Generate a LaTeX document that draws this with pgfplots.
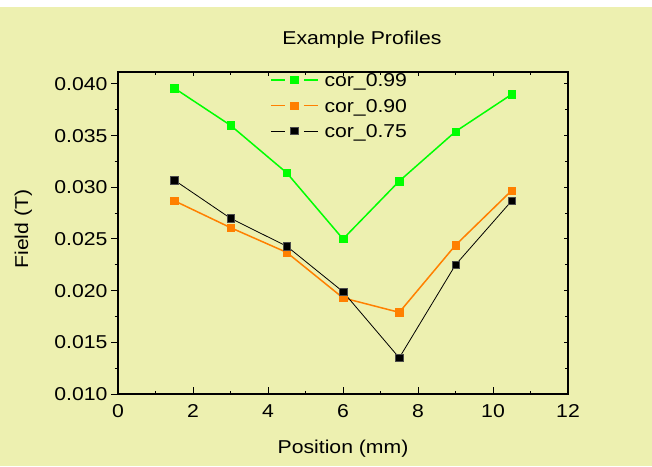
\documentclass[border=0pt]{standalone}
\usepackage{fontspec}
\setmainfont{Liberation Sans}[FakeStretch=1.14]
\usepackage{pgfplots}
\pgfplotsset{compat=1.18}
\definecolor{bgc}{RGB}{237,240,176}
\definecolor{cgreen}{RGB}{0,255,0}
\definecolor{corange}{RGB}{255,128,0}
\begin{document}
\begin{tikzpicture}[x=1pt,y=1pt,font=\fontsize{18.6pt}{22pt}\selectfont]
\fill[white] (0,0) rectangle (652,466);
\fill[bgc] (0,0) rectangle (652,459);
\begin{axis}[
  at={(118pt,72pt)}, anchor=south west,
  width=450pt, height=322pt, scale only axis,
  xmin=0, xmax=12, ymin=0.010, ymax=0.04116,
  xtick={0,2,4,6,8,10,12},
  ytick={0.010,0.015,0.020,0.025,0.030,0.035,0.040},
  minor x tick num=1, minor y tick num=1,
  tick pos=left,
  xtick align=inside, ytick align=outside,
  major tick length=7pt, minor tick length=3.5pt,
  tick style={black, line width=1pt},
  axis line style={black, line width=1.2pt},
  scaled y ticks=false,
  yticklabel style={/pgf/number format/.cd, fixed, fixed zerofill, precision=3, assume math mode=true},
  xticklabel style={/pgf/number format/assume math mode=true, yshift=-7pt},
  legend style={draw=none, fill=none, at={(axis description cs:0.3378,0.9938)}, anchor=north west,
    inner sep=0pt, outer sep=0pt, row sep=8.5pt, cells={anchor=base west}, nodes={inner sep=0pt, text height=13pt, text depth=4pt},
    /tikz/every odd column/.append style={column sep=6pt}},
  legend image code/.code={
    \draw[mark=none] (0pt,7pt) -- (14pt,7pt);
    \draw[mark=none] (33pt,7pt) -- (47pt,7pt);
    \draw plot coordinates {(23.5pt,7pt)};
  },
]
\addplot[cgreen, line width=1.5pt, mark=square*, mark size=3.7pt, mark options={solid, fill=cgreen, draw=cgreen, line width=0.4pt}]
  coordinates {(1.5,0.0396)(3,0.0360)(4.5,0.0314)(6,0.0250)(7.5,0.0306)(9,0.0354)(10.5,0.0390)};
\addlegendentry{cor\_0.99}
\addplot[corange, line width=1.5pt, mark=square*, mark size=3.7pt, mark options={solid, fill=corange, draw=corange, line width=0.4pt}]
  coordinates {(1.5,0.0287)(3,0.0261)(4.5,0.0237)(6,0.0193)(7.5,0.0179)(9,0.0244)(10.5,0.0297)};
\addlegendentry{cor\_0.90}
\addplot[black, line width=0.8pt, mark=square*, mark size=3.7pt, mark options={solid, fill=black, draw=black!70, line width=0.4pt}]
  coordinates {(1.5,0.0307)(3,0.0270)(4.5,0.0243)(6,0.0199)(7.5,0.0135)(9,0.0225)(10.5,0.0287)};
\addlegendentry{cor\_0.75}
\end{axis}
\begin{axis}[
  at={(118pt,72pt)}, anchor=south west,
  width=450pt, height=322pt, scale only axis,
  xmin=0, xmax=12, ymin=0.010, ymax=0.04116,
  xtick={0,2,4,6,8,10,12},
  ytick={0.010,0.015,0.020,0.025,0.030,0.035,0.040},
  minor x tick num=1, minor y tick num=1,
  xtick pos=right, ytick pos=right, tick align=inside,
  xticklabels={}, yticklabels={},
  major tick length=4.5pt, minor tick length=3pt,
  tick style={black, line width=1pt},
  axis line style={black, line width=1.2pt},
  scaled y ticks=false,
]
\end{axis}
\node[anchor=base] at (362,421.7) {Example Profiles};
\node[anchor=base] at (343,13) {Position (mm)};
\node[anchor=base, rotate=90] at (28,237) {Field (T)};
\pgfresetboundingbox
\path[use as bounding box] (0,0) rectangle (652,466);
\end{tikzpicture}
\end{document}
